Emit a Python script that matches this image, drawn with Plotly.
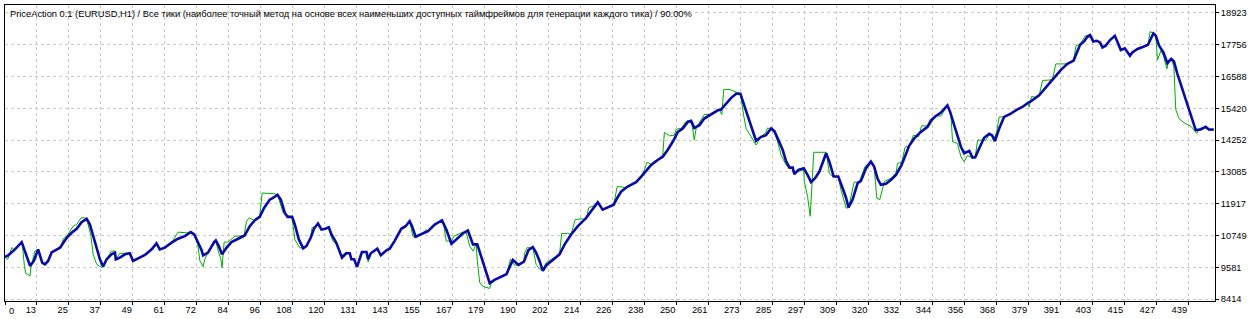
import plotly.graph_objects as go

TITLE = "PriceAction 0.1 (EURUSD,H1) / Все тики (наиболее точный метод на основе всех наименьших доступных таймфреймов для генерации каждого тика) / 90.00%"

X_LABELS = ["0", "13", "25", "37", "49", "61", "72", "84", "96", "108", "120", "131", "143", "155",
            "167", "179", "190", "202", "214", "226", "238", "250", "261", "273", "285", "297", "309",
            "320", "332", "344", "356", "368", "379", "391", "403", "415", "427", "439"]
Y_TICKS = [8414, 9581, 10749, 11917, 13085, 14252, 15420, 16588, 17756, 18923]

BAL_T = [0, 1.2, 3.7, 6.2, 7.4, 9.3, 10.7, 12.3, 13.8, 14.8, 16.0, 17.3, 20.4, 22.9, 24.7, 26.6, 28.4, 30.3,
         31.5, 33.4, 35.2, 36.4, 37.7, 39.5, 40.8, 41.1, 42.6, 44.5, 46.3, 47.5, 49.4, 51.9, 54.4, 56.2,
         57.4, 59.3, 61.8, 64.2, 66.7, 68.9, 70.2, 71.4, 72.9, 73.5, 75.3, 77.6,
         78.2, 79.3, 80.5, 82.2, 84.0, 86.5, 88.9, 90.8, 92.7, 94.5, 96.1, 98.2, 99.4, 101.1, 102.3, 103.8,
         104.8, 106.5, 107.5, 109.0, 110.6, 111.8, 113.4, 114.6, 116.1, 117.4, 118.9, 120.1, 121.1, 122.9,
         124.2, 125.0, 126.6, 127.9, 128.5, 129.5, 130.6, 131.6, 132.4, 134.1, 134.7, 135.7, 138.1, 139.4,
         141.5, 142.7, 144.5, 147.0, 148.6, 150.1, 151.0, 152.3, 154.4, 156.9, 159.4, 162.1, 163.7, 165.6,
         167.4, 169.8, 171.7, 172.7, 173.6, 175.2, 176.7, 178.5, 179.8, 181.6, 184.1, 186.0, 187.5, 188.4,
         190.5, 192.5, 194.2, 195.8, 197.0, 198.3, 199.5, 200.8, 203.2, 205.7, 207.6, 210.0, 212.5, 215.6,
         217.4, 219.9, 221.7, 223.6, 225.8, 227.1, 228.6, 231.0, 234.1, 236.0, 237.8, 239.7, 242.1, 244.0,
         245.8, 247.7, 249.6, 251.4, 253.3, 254.5, 255.7, 257.6, 259.4, 261.9, 264.4, 265.6, 267.5, 269.3,
         271.2, 272.8, 274.0, 275.5, 276.8, 278.6, 280.5, 282.3, 284.2, 285.4, 286.9, 288.5, 289.7, 291.0,
         292.2, 292.8, 294.3, 296.3, 297.7, 299.0, 300.5, 302.1, 304.6, 305.8, 307.4, 309.1, 310.7, 312.0,
         312.9, 314.4, 316.3, 317.5, 319.4, 321.2, 322.4, 323.7, 324.9, 326.8, 328.7, 330.5, 332.6, 333.9,
         335.4, 337.3, 339.5, 342.2, 343.5, 345.3, 347.2, 349.6, 350.6, 352.1, 353.3, 354.6, 355.8, 357.7,
         358.9, 359.9, 361.4, 363.2, 365.1, 366.1, 367.2, 368.8, 370.6, 373.1, 375.6, 377.4, 379.6, 380.5,
         383.6, 386.1, 388.5, 391.7, 394.1, 396.4, 397.8, 398.8, 400.3, 401.5, 402.5, 403.7, 405.0, 406.2,
         407.1, 408.3, 409.9, 411.7, 412.6, 413.9, 415.4, 416.3, 417.3, 418.2, 420.1, 422.3, 424.0, 425.0,
         426.0, 426.9, 428.1, 429.7, 431.2, 432.6, 433.6, 434.9, 436.7, 438.6, 440.4, 441.7, 443.5, 445.4,
         446.6, 448.4]
BAL_V = [9960, 10020, 10238, 10505, 10166, 9629, 9812, 10238, 9753, 9691, 9812, 10129, 10301, 10665, 10848,
         10994, 11235, 11359, 11151, 10541, 9874, 9607, 9874, 10056, 10118, 9874, 9936, 10056, 10093, 9812,
         9910, 10031, 10238, 10457, 10238, 10301, 10483, 10629, 10724, 10870, 10786, 10541, 10213, 10020,
         10118, 10505,
         10567, 10359, 10056, 10301, 10505, 10629, 10749, 11089, 11308, 11432, 11760, 12063, 12125, 12245,
         12063, 11578, 11432, 11432, 11151, 10603, 10275, 10359, 10665, 10994, 11187, 10968, 10994, 11052,
         10786, 10483, 10176, 9936, 10093, 10093, 9874, 9874, 9593, 9874, 10140, 10140, 9874, 10093, 10264,
         10020, 10202, 10264, 10541, 10994, 11089, 11271, 11089, 10702, 10786, 10906, 11151, 11308, 10968,
         10446, 10603, 10822, 10932, 10665, 10421, 10421, 9936, 9388, 8998, 9118, 9228, 9326, 9655, 9848,
         9666, 9790, 10213, 10322, 10118, 9812, 9447, 9655, 9848, 10056, 10421, 10786, 11089, 11395, 11636,
         11965, 11698, 11782, 11881, 12125, 12366, 12548, 12709, 12913, 13121, 13340, 13523, 13643, 13888,
         14190, 14555, 14679, 14920, 14957, 14701, 14800, 15044, 15190, 15347, 15373, 15592, 15796, 15957,
         15957, 15592, 15165, 14738, 14227, 14373, 14435, 14679, 14581, 14252, 13888, 13486, 13242, 13242,
         13001, 13158, 13220, 12975, 12709, 12855, 13096, 13767, 13461, 12913, 12913, 12490, 12125, 11782,
         12063, 12672, 12756, 13220, 13461, 13278, 12829, 12610, 12647, 12793, 12975, 13340, 13705, 14044,
         14314, 14533, 14738, 14982, 15139, 15263, 15530, 15285, 14800, 14373, 14008, 13767, 13851, 13607,
         13621, 13950, 14336, 14482, 14435, 14216, 14679, 15103, 15227, 15384, 15468, 15628, 15676, 15894,
         16197, 16467, 16832, 17051, 17172, 17474, 17755, 17876, 18047, 18109, 17876, 17901, 17839, 17657,
         17719, 17927, 18084, 17876, 17562, 17620, 17474, 17354, 17474, 17599, 17682, 17755, 17964, 18168,
         18084, 17719, 17474, 17073, 17234, 17146, 16686, 16139, 15592, 15044, 14617, 14643, 14738, 14643,
         14643]

EQ_T = [0, 1.0, 2.5, 3.4, 5.6, 6.4, 7.2, 7.7, 9.3, 9.6, 11.1, 12.3, 13.8, 14.8, 16.0, 17.3, 18.5, 20.8, 21.6,
        22.9, 25.3, 26.6, 28.2, 29.7, 30.3, 31.9, 32.7, 34.0, 35.8, 36.4, 37.7, 39.5, 40.8, 41.1, 42.6, 44.5,
        46.3, 47.5, 49.4, 51.9, 54.4, 56.2, 57.4, 59.3, 61.8, 63.6, 64.2, 67.3, 68.9, 70.2, 71.5, 72.3, 73.5,
        74.1, 75.3, 77.6, 78.2, 79.1, 80.1, 80.5, 81.3, 82.7, 85.3, 87.1, 88.7, 89.6, 90.6, 92.3, 94.5, 95.4,
        100.1, 101.2, 103.2, 106.5, 107.5, 109.3, 110.6, 111.8, 113.4, 113.9, 114.9, 116.1, 117.4, 118.9,
        120.1, 121.1, 121.7, 122.9, 124.8, 126.6, 127.9, 128.5, 129.5, 130.6, 131.0, 131.6, 132.4, 134.1,
        134.7, 135.7, 138.1, 139.4, 141.5, 142.7, 144.5, 147.0, 148.6, 150.1, 151.3, 152.6, 154.4, 156.3,
        156.9, 159.4, 162.1, 162.8, 163.7, 165.6, 166.5, 169.8, 171.1, 172.4, 173.6, 174.8, 175.2, 176.1,
        177.3, 179.8, 180.4, 181.6, 184.1, 186.0, 187.5, 189.0, 190.5, 192.5, 192.7, 193.7, 195.8, 197.0,
        198.3, 199.5, 200.8, 203.2, 205.7, 206.5, 208.7, 210.0, 211.5, 213.7, 215.6, 216.5, 218.4, 219.9,
        221.7, 223.6, 225.8, 227.1, 230.2, 231.0, 234.1, 236.0, 238.2, 239.7, 241.0, 242.1, 244.0, 244.6,
        246.5, 248.3, 249.0, 250.8, 252.7, 254.6, 255.7, 256.4, 259.4, 261.9, 265.0, 265.9, 266.6, 268.7,
        271.8, 272.8, 274.0, 274.9, 276.8, 278.6, 280.5, 282.3, 282.9, 284.2, 285.4, 286.6, 287.9, 289.7,
        291.0, 292.2, 292.8, 294.3, 296.3, 296.5, 297.7, 298.7, 299.2, 300.0, 304.6, 305.8, 307.0, 309.1,
        310.1, 312.0, 312.9, 315.0, 316.9, 319.0, 321.2, 322.4, 323.4, 324.5, 326.2, 328.7, 330.5, 331.1,
        332.6, 333.9, 335.4, 337.0, 338.9, 340.0, 342.9, 345.3, 347.2, 349.6, 350.9, 351.5, 353.3, 354.6,
        355.8, 357.0, 358.9, 359.9, 360.8, 363.9, 365.1, 366.1, 367.2, 367.9, 368.8, 371.3, 373.1, 375.6,
        378.1, 379.6, 379.9, 380.8, 383.0, 383.6, 384.9, 388.0, 388.5, 389.8, 394.1, 396.4, 397.3, 398.8,
        400.8, 402.5, 403.7, 405.0, 406.2, 407.1, 408.3, 409.9, 411.7, 412.6, 413.9, 415.4, 416.3, 417.3,
        418.2, 420.1, 422.3, 424.0, 424.8, 426.0, 426.9, 427.5, 428.8, 429.7, 431.0, 431.7, 432.6, 433.6,
        434.3, 435.5, 437.4, 439.9, 442.1, 443.0, 445.1, 446.6, 448.4]
EQ_V = [9960, 9874, 10301, 10238, 10421, 10505, 9607, 9363, 9264, 9582, 10176, 10238, 9753, 9691, 9812,
        10140, 10213, 10301, 10629, 10724, 11089, 11151, 11395, 11395, 11359, 10724, 10056, 9691, 9571, 9607,
        9874, 10176, 10176, 9874, 10093, 10093, 10093, 9812, 9910, 10031, 10238, 10457, 10238, 10301, 10483,
        10749, 10870, 10848, 10870, 10786, 10421, 9812, 9607, 9874, 10118, 10505, 10567, 10176, 9874, 9571,
        10505, 10505, 10724, 10724, 10749, 11271, 11395, 11308, 11479, 12307, 12282, 12209, 11578, 11395,
        10603, 10301, 10275, 10359, 10665, 11030, 11078, 11187, 10968, 10994, 11052, 10665, 10541, 10421,
        9994, 10140, 10093, 9874, 9874, 9593, 9775, 9972, 10140, 10140, 9775, 10093, 10264, 10020, 10202,
        10264, 10541, 10994, 11089, 11271, 10724, 10665, 10786, 10968, 10906, 11151, 11308, 11089, 10541,
        10541, 10724, 10870, 10848, 10359, 10176, 10421, 9812, 9023, 8877, 8804, 8998, 9118, 9228, 9326, 9874,
        9655, 9666, 9790, 10093, 10301, 10301, 9691, 9509, 9509, 9753, 9899, 10056, 10822, 10822, 10786,
        11333, 11359, 11333, 11760, 11844, 11965, 11698, 11782, 11881, 12548, 12512, 12548, 12709, 12855,
        13439, 13366, 13486, 13523, 13705, 14533, 14409, 14435, 14654, 14679, 14946, 14982, 14252, 14701,
        15190, 15190, 15373, 15190, 16113, 16113, 16015, 15957, 15165, 14679, 14373, 14070, 14373, 14555,
        14701, 14643, 14581, 14190, 13705, 13340, 13242, 13231, 13037, 13096, 13158, 12731, 12183, 11454,
        12428, 13804, 13804, 13037, 12913, 12913, 12428, 11760, 11760, 12709, 12709, 13278, 13461, 13278,
        12125, 12063, 12731, 12855, 13037, 13402, 13424, 13986, 14044, 14435, 14373, 14774, 14774, 15139,
        15139, 15530, 15165, 14190, 14132, 13643, 13461, 13680, 13607, 13621, 14252, 14252, 14460, 14435,
        14362, 14581, 15103, 15103, 15227, 15384, 15555, 15628, 15468, 15858, 15810, 15894, 16442, 16442,
        16467, 17051, 17051, 17172, 17719, 17780, 18084, 18109, 17876, 17901, 17839, 17657, 17719, 17927,
        18084, 17876, 17562, 17620, 17474, 17391, 17474, 17599, 17682, 17755, 18241, 18168, 18047, 17197,
        17537, 17354, 16869, 17208, 17234, 16953, 15373, 15044, 14884, 14763, 14497, 14679, 14716, 14617,
        14617]

X_MAX = 448.85
TICK_STEP = 11.861
Y_MIN, Y_MAX = 8341, 19215

FONT = "Liberation Sans"
GRID = "#c8c8c8"

fig = go.Figure()
fig.add_trace(go.Scatter(x=EQ_T, y=EQ_V, mode="lines", line=dict(color="#00b000", width=1),
                         hoverinfo="skip", showlegend=False))
fig.add_trace(go.Scatter(x=BAL_T, y=BAL_V, mode="lines", line=dict(color="#0a0aa8", width=2.6),
                         hoverinfo="skip", showlegend=False))

tickvals_x = [k * TICK_STEP for k in range(len(X_LABELS))]
ticktext_x = [""] + X_LABELS[1:]

fig.update_layout(
    width=1260, height=319,
    margin=dict(l=4, r=45, t=4, b=17),
    paper_bgcolor="white", plot_bgcolor="white",
    font=dict(family=FONT, size=9, color="black"),
    showlegend=False,
)
fig.update_xaxes(
    range=[0, X_MAX], tickmode="array", tickvals=tickvals_x, ticktext=ticktext_x,
    ticklabelposition="outside left",
    showgrid=True, gridcolor=GRID, griddash="3px,3px", gridwidth=1,
    showline=True, linecolor="black", linewidth=1, mirror=True,
    ticks="outside", ticklen=3, tickcolor="black",
    zeroline=False, tickfont=dict(family=FONT, size=9.3, color="black"),
)
fig.update_yaxes(
    range=[Y_MIN, Y_MAX], side="right", tickmode="array", tickvals=Y_TICKS,
    ticktext=[str(v) for v in Y_TICKS],
    showgrid=True, gridcolor=GRID, griddash="3px,3px", gridwidth=1,
    showline=True, linecolor="black", linewidth=1, mirror=True,
    ticks="outside", ticklen=3, tickcolor="black",
    zeroline=False, tickfont=dict(family=FONT, size=9.3, color="black"),
)
fig.add_annotation(text=X_LABELS[0], xref="x", yref="paper", x=0, y=0, xanchor="left", yanchor="top",
                   xshift=2, yshift=-3, showarrow=False, font=dict(family=FONT, size=9.3, color="black"))
fig.add_annotation(text=TITLE, xref="paper", yref="paper", x=0, y=1, xanchor="left", yanchor="top",
                   xshift=3, yshift=-2, showarrow=False, font=dict(family=FONT, size=9.3, color="black"))

fig.write_html("out.html")
